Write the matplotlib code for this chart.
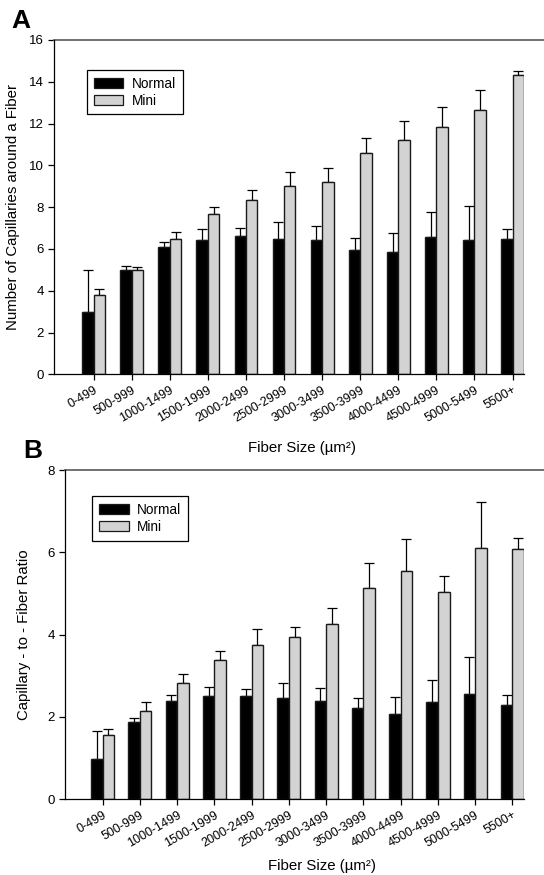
import numpy as np
import matplotlib
matplotlib.use("Agg")
import matplotlib.pyplot as plt
from matplotlib.patches import Patch

plt.rcParams["font.family"] = ["Liberation Sans", "DejaVu Sans"]

# ── Data ──
categories = ["0-499", "500-999", "1000-1499", "1500-1999", "2000-2499", "2500-2999",
              "3000-3499", "3500-3999", "4000-4499", "4500-4999", "5000-5499", "5500+"]

# Panel A: capillaries around a fiber
normal_a = [3.0, 5.0, 6.1, 6.45, 6.64, 6.48, 6.42, 5.94, 5.86, 6.58, 6.45, 6.48]
normal_a_err = [2.0, 0.2, 0.23, 0.51, 0.35, 0.8, 0.68, 0.57, 0.89, 1.21, 1.6, 0.46]
mini_a = [3.81, 5.0, 6.5, 7.66, 8.35, 9.0, 9.18, 10.59, 11.22, 11.84, 12.67, 14.34]
mini_a_err = [0.27, 0.14, 0.3, 0.36, 0.48, 0.66, 0.69, 0.71, 0.88, 0.93, 0.95, 0.16]

# Panel B: capillary-to-fiber ratio
normal_b = [0.97, 1.88, 2.38, 2.51, 2.51, 2.45, 2.38, 2.21, 2.08, 2.37, 2.56, 2.29]
normal_b_err = [0.70, 0.10, 0.15, 0.22, 0.16, 0.38, 0.32, 0.24, 0.40, 0.52, 0.89, 0.24]
mini_b = [1.56, 2.14, 2.83, 3.38, 3.76, 3.94, 4.26, 5.13, 5.54, 5.04, 6.11, 6.08]
mini_b_err = [0.14, 0.22, 0.21, 0.23, 0.37, 0.25, 0.39, 0.60, 0.79, 0.39, 1.11, 0.26]

GRAY = "#d3d3d3"
EDGE = "#1a1a1a"


def draw_panel(ax, normal, normal_err, mini, mini_err, ylim, yticks, ylabel,
               letter, bar_w, xleft, leg_anchor, xlabel_xy):
    x = np.arange(len(categories))
    zeros = np.zeros(len(categories))
    ax.bar(x - bar_w / 2, normal, bar_w, color="black", edgecolor=EDGE,
           linewidth=1.0, label="Normal", zorder=2)
    ax.bar(x + bar_w / 2, mini, bar_w, color=GRAY, edgecolor=EDGE,
           linewidth=1.0, label="Mini", zorder=2)
    ax.errorbar(x - bar_w / 2, normal, yerr=[zeros, normal_err], fmt="none",
                ecolor="black", elinewidth=0.9, capsize=3.6, capthick=0.9, zorder=1)
    ax.errorbar(x + bar_w / 2, mini, yerr=[zeros, mini_err], fmt="none",
                ecolor="black", elinewidth=0.9, capsize=3.6, capthick=0.9, zorder=1)

    ax.set_xlim(xleft, len(categories) - 1 + bar_w)
    ax.set_ylim(*ylim)
    ax.set_yticks(yticks)
    ax.set_xticks(x)
    ax.set_xticklabels(categories, rotation=30, ha="right", rotation_mode="anchor",
                       fontsize=9)
    ax.tick_params(axis="y", labelsize=9.5, length=4, width=0.9, pad=3)
    ax.tick_params(axis="x", length=4, width=0.9, pad=3)

    ax.spines["right"].set_visible(False)
    ax.spines["top"].set_visible(False)
    ax.spines["left"].set_linewidth(0.9)
    ax.spines["bottom"].set_linewidth(0.9)
    # top frame line running out to the page edge
    ax.plot([0, 1.05], [1, 1], transform=ax.transAxes, clip_on=False,
            color="#666666", linewidth=1.3)

    ax.set_ylabel(ylabel, fontsize=10.8)
    ax.yaxis.set_label_coords(-0.072, 0.5)
    ax.set_xlabel("Fiber Size (\u00b5m\u00b2)", fontsize=10.8)
    ax.xaxis.set_label_coords(*xlabel_xy)

    handles = [Patch(facecolor="black", edgecolor=EDGE, linewidth=0.9),
               Patch(facecolor=GRAY, edgecolor=EDGE, linewidth=0.9)]
    leg = ax.legend(handles, ["Normal", "Mini"], loc="upper left",
                    bbox_to_anchor=leg_anchor, fontsize=9.8, fancybox=False,
                    framealpha=1, edgecolor="black", borderpad=0.5,
                    handlelength=2.2, handleheight=0.75, handletextpad=0.6,
                    labelspacing=0.2, borderaxespad=0)
    leg.get_frame().set_linewidth(0.9)

    ax.text(-0.09, 1.022, letter, transform=ax.transAxes, fontsize=19,
            fontweight="bold", ha="left", va="bottom")


fig = plt.figure(figsize=(5.44, 8.75), dpi=100)
ax_a = fig.add_axes([0.0989, 0.5722, 0.8643, 0.3821])
ax_b = fig.add_axes([0.1186, 0.0865, 0.8447, 0.3763])

draw_panel(ax_a, normal_a, normal_a_err, mini_a, mini_a_err, (0, 16),
           range(0, 17, 2), "Number of Capillaries around a Fiber", "A",
           0.30, -1.047, (0.07, 0.91), (0.528, -0.2))
draw_panel(ax_b, normal_b, normal_b_err, mini_b, mini_b_err, (0, 8),
           range(0, 9, 2), "Capillary - to - Fiber Ratio", "B",
           0.31, -1.024, (0.06, 0.92), (0.56, -0.18))

fig.savefig("out.png", dpi=100)
plt.close(fig)
